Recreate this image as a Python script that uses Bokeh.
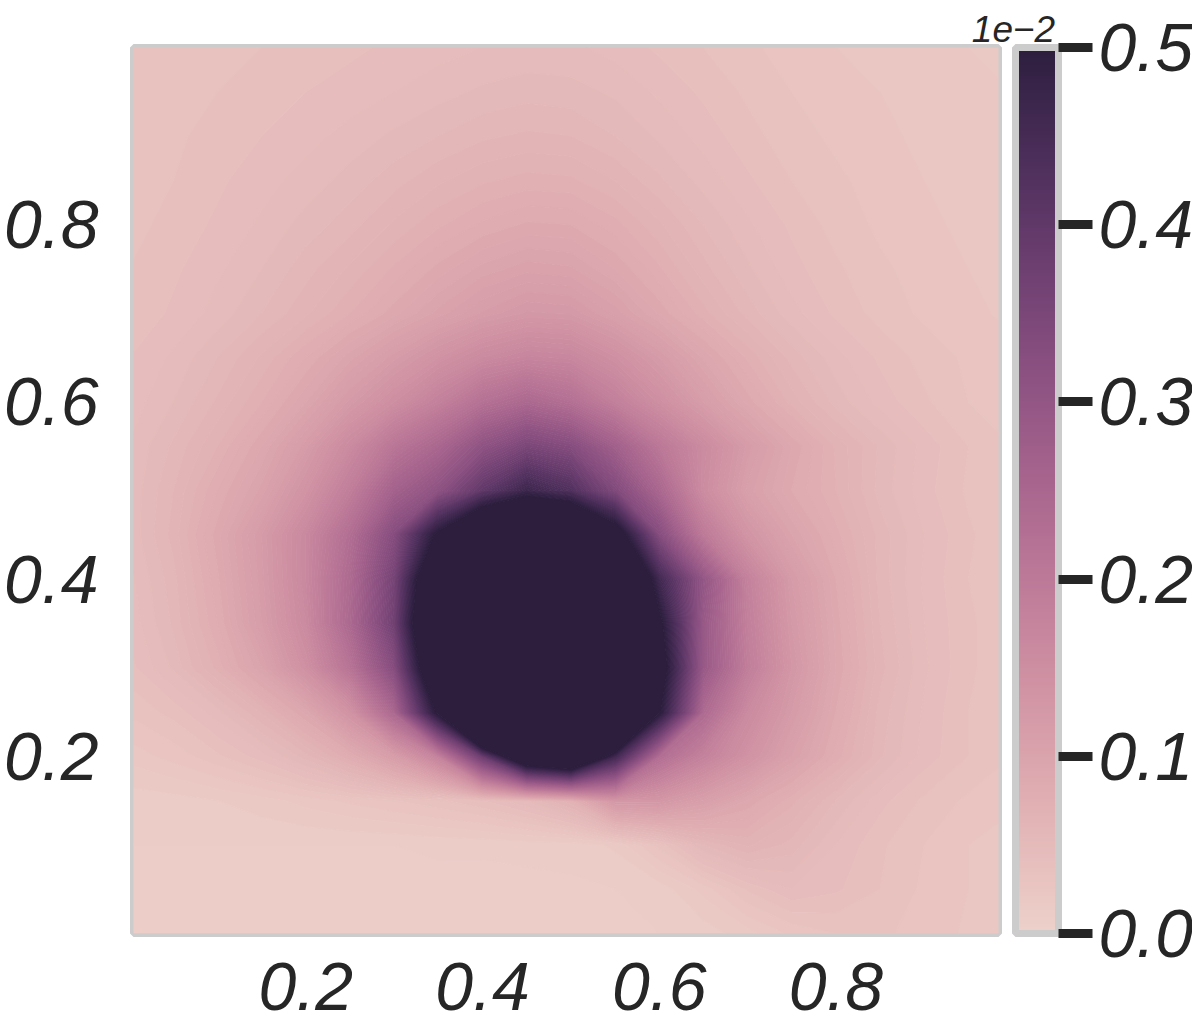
import numpy as np
from bokeh.plotting import figure
from bokeh.layouts import row
from bokeh.models import (LinearColorMapper, ColorBar, FixedTicker, Range1d,
                          Title, PrintfTickFormatter)
from bokeh.embed import file_html
from bokeh.resources import INLINE

# ---------------- data ----------------
x_ticks = [0.2, 0.4, 0.6, 0.8]
y_ticks = [0.2, 0.4, 0.6, 0.8]
cbar_ticks = [0.0, 0.1, 0.2, 0.3, 0.4, 0.5]
cbar_title = "1e\u22122"

# grid nodes of the field
x_nodes = [0.00, 0.05, 0.10, 0.15, 0.20, 0.25, 0.30, 0.35, 0.40, 0.45, 0.50,
           0.55, 0.60, 0.65, 0.70, 0.75, 0.80, 0.85, 0.90, 0.95, 1.00]
y_nodes = [0.00, 0.05, 0.10, 0.15, 0.20, 0.25, 0.30, 0.35, 0.40, 0.45, 0.50,
           0.55, 0.60, 0.65, 0.70, 0.75, 0.80, 0.85, 0.90, 0.95, 1.00]

# field values (units of 1e-2); rows listed from y=1.00 (top) down to y=0.00
# values above 0.5 are saturated (drawn in the darkest colour)
field_rows_top_down = [
    [0.030, 0.031, 0.033, 0.035, 0.037, 0.039, 0.041, 0.043, 0.045, 0.046, 0.046, 0.043, 0.039, 0.035, 0.031, 0.028, 0.025, 0.023, 0.022, 0.020, 0.019],
    [0.031, 0.032, 0.035, 0.037, 0.040, 0.042, 0.045, 0.048, 0.051, 0.053, 0.052, 0.049, 0.044, 0.039, 0.034, 0.030, 0.027, 0.025, 0.023, 0.021, 0.020],
    [0.031, 0.034, 0.037, 0.040, 0.043, 0.047, 0.051, 0.055, 0.059, 0.061, 0.060, 0.055, 0.049, 0.043, 0.037, 0.032, 0.029, 0.026, 0.024, 0.022, 0.021],
    [0.032, 0.035, 0.039, 0.043, 0.047, 0.052, 0.058, 0.064, 0.069, 0.072, 0.071, 0.065, 0.056, 0.048, 0.041, 0.035, 0.031, 0.028, 0.025, 0.023, 0.021],
    [0.033, 0.037, 0.041, 0.046, 0.052, 0.058, 0.066, 0.074, 0.081, 0.086, 0.085, 0.077, 0.066, 0.055, 0.046, 0.039, 0.033, 0.029, 0.026, 0.024, 0.022],
    [0.035, 0.039, 0.044, 0.050, 0.058, 0.066, 0.076, 0.087, 0.097, 0.103, 0.101, 0.090, 0.076, 0.062, 0.051, 0.042, 0.036, 0.031, 0.028, 0.025, 0.023],
    [0.036, 0.041, 0.047, 0.055, 0.064, 0.075, 0.088, 0.102, 0.116, 0.126, 0.124, 0.108, 0.089, 0.072, 0.058, 0.047, 0.039, 0.033, 0.029, 0.026, 0.024],
    [0.040, 0.046, 0.055, 0.066, 0.080, 0.098, 0.118, 0.140, 0.160, 0.172, 0.168, 0.146, 0.120, 0.094, 0.074, 0.058, 0.047, 0.039, 0.033, 0.029, 0.026],
    [0.042, 0.050, 0.061, 0.075, 0.095, 0.122, 0.150, 0.182, 0.222, 0.245, 0.225, 0.185, 0.148, 0.115, 0.088, 0.068, 0.053, 0.043, 0.036, 0.030, 0.027],
    [0.045, 0.056, 0.070, 0.090, 0.118, 0.160, 0.210, 0.250, 0.310, 0.350, 0.330, 0.270, 0.205, 0.158, 0.118, 0.090, 0.069, 0.054, 0.043, 0.035, 0.030],
    [0.046, 0.060, 0.080, 0.102, 0.138, 0.190, 0.265, 0.310, 0.400, 0.470, 0.430, 0.340, 0.250, 0.155, 0.108, 0.085, 0.070, 0.053, 0.042, 0.034, 0.029],
    [0.046, 0.062, 0.088, 0.120, 0.165, 0.230, 0.330, 0.520, 0.680, 0.730, 0.710, 0.560, 0.330, 0.200, 0.135, 0.100, 0.077, 0.058, 0.045, 0.036, 0.030],
    [0.043, 0.058, 0.084, 0.118, 0.165, 0.240, 0.360, 0.640, 1.000, 1.000, 1.000, 0.710, 0.460, 0.300, 0.180, 0.120, 0.085, 0.058, 0.044, 0.035, 0.030],
    [0.041, 0.056, 0.080, 0.115, 0.160, 0.245, 0.370, 0.690, 1.000, 1.000, 1.000, 1.000, 0.520, 0.290, 0.185, 0.125, 0.088, 0.060, 0.045, 0.036, 0.031],
    [0.038, 0.051, 0.072, 0.100, 0.145, 0.215, 0.330, 0.630, 1.000, 1.000, 1.000, 1.000, 0.550, 0.290, 0.190, 0.130, 0.090, 0.062, 0.046, 0.036, 0.031],
    [0.031, 0.037, 0.048, 0.066, 0.092, 0.140, 0.250, 0.520, 1.000, 1.000, 1.000, 0.900, 0.510, 0.240, 0.160, 0.120, 0.085, 0.058, 0.044, 0.035, 0.030],
    [0.022, 0.027, 0.034, 0.043, 0.058, 0.080, 0.115, 0.180, 0.380, 0.620, 0.680, 0.460, 0.230, 0.180, 0.140, 0.105, 0.078, 0.056, 0.043, 0.035, 0.030],
    [0.012, 0.013, 0.015, 0.018, 0.022, 0.026, 0.030, 0.034, 0.040, 0.050, 0.070, 0.130, 0.130, 0.110, 0.090, 0.072, 0.055, 0.042, 0.034, 0.029, 0.026],
    [0.010, 0.010, 0.010, 0.010, 0.010, 0.010, 0.010, 0.011, 0.011, 0.012, 0.012, 0.016, 0.032, 0.055, 0.066, 0.058, 0.045, 0.036, 0.030, 0.025, 0.022],
    [0.008, 0.008, 0.008, 0.008, 0.008, 0.008, 0.008, 0.008, 0.008, 0.008, 0.009, 0.010, 0.012, 0.022, 0.036, 0.045, 0.041, 0.035, 0.029, 0.025, 0.022],
    [0.006, 0.006, 0.006, 0.006, 0.006, 0.006, 0.006, 0.006, 0.006, 0.006, 0.007, 0.008, 0.010, 0.012, 0.018, 0.026, 0.030, 0.031, 0.028, 0.024, 0.021],
]

# ---------------- palette (seaborn default cubehelix, light -> dark) ----------------
def cubehelix_colors(n=256, start=0.0, rot=0.4, gamma=1.0, hue=0.8, light=0.85, dark=0.15):
    t = np.linspace(light, dark, n)
    xg = t ** gamma
    a = hue * xg * (1 - xg) / 2
    phi = 2 * np.pi * (start / 3 + rot * t)
    r = xg + a * (-0.14861 * np.cos(phi) + 1.78277 * np.sin(phi))
    g = xg + a * (-0.29227 * np.cos(phi) - 0.90649 * np.sin(phi))
    b = xg + a * (1.97294 * np.cos(phi))
    rgb = np.clip(np.stack([r, g, b], axis=1), 0, 1)
    return ["#%02x%02x%02x" % tuple(int(round(c * 255)) for c in row) for row in rgb]

palette = cubehelix_colors()
VMIN, VMAX = 0.0, 0.5

def color_at(v):
    i = int(round((min(max(v, VMIN), VMAX) - VMIN) / (VMAX - VMIN) * (len(palette) - 1)))
    return palette[i]

# fine colour levels for the filled field (styling only)
n_bands = 100
levels = [VMIN + (VMAX - VMIN) * k / n_bands for k in range(n_bands + 1)] + [2.0]
fill_colors = [color_at(0.5 * (levels[k] + levels[k + 1])) for k in range(n_bands)] + [palette[-1]]
line_colors = [color_at(l) for l in levels]

TEXT = "#262626"
EDGE = "#cccccc"
FONT = "Liberation Sans"
LABEL_SIZE = "68px"

field = np.array(field_rows_top_down[::-1])

mapper = LinearColorMapper(palette=palette, low=VMIN, high=VMAX)

# ---------------- main field ----------------
p = figure(width=1002, height=1032,
           x_range=Range1d(0.005, 0.984), y_range=Range1d(0.0, 1.0),
           output_backend="svg", toolbar_location=None,
           min_border_left=131, min_border_right=4, min_border_top=47, min_border_bottom=99)

p.contour(x=np.array(x_nodes), y=np.array(y_nodes), z=field, levels=levels,
          fill_color=fill_colors, line_color=line_colors, line_width=1.2)

p.grid.visible = False
p.outline_line_color = EDGE
p.outline_line_width = 7
p.background_fill_color = "white"
p.border_fill_color = "white"

for ax, ticks, standoff in ((p.xaxis, x_ticks, 29), (p.yaxis, y_ticks, 35)):
    ax.ticker = FixedTicker(ticks=ticks)
    ax.major_tick_line_color = None
    ax.minor_tick_line_color = None
    ax.major_tick_out = 0
    ax.major_tick_in = 0
    ax.axis_line_color = None
    ax.major_label_text_font = FONT
    ax.major_label_text_font_size = LABEL_SIZE
    ax.major_label_text_font_style = "italic"
    ax.major_label_text_color = TEXT
    ax.major_label_standoff = standoff
p.yaxis.major_label_orientation = "horizontal"

# ---------------- colour bar (own transparent panel, slightly overlapping) ----------------
cbf = figure(width=230, height=1032, x_range=Range1d(0, 1), y_range=Range1d(0, 1),
             output_backend="svg", toolbar_location=None,
             x_axis_location=None, y_axis_location=None,
             min_border_left=53, min_border_right=175, min_border_top=0, min_border_bottom=99)
cbf.margin = (0, 0, 0, -40)
cbf.grid.visible = False
cbf.outline_line_color = None
cbf.background_fill_color = None
cbf.border_fill_color = None

cb = ColorBar(color_mapper=mapper, ticker=FixedTicker(ticks=cbar_ticks),
              formatter=PrintfTickFormatter(format="%.1f"),
              location="bottom_left", height=886,
              width=43, padding=0, margin=0,
              bar_line_color=EDGE, bar_line_width=7,
              major_tick_out=34, major_tick_in=0,
              major_tick_line_color=TEXT, major_tick_line_width=9,
              minor_tick_line_color=None,
              major_label_text_font=FONT, major_label_text_font_size=LABEL_SIZE,
              major_label_text_font_style="italic", major_label_text_color=TEXT,
              label_standoff=6, border_line_color=None, background_fill_color=None)
cbf.add_layout(cb, "right")

cbf.add_layout(Title(text=cbar_title, align="center", standoff=8, vertical_align="top",
                     text_font=FONT, text_font_size="37px", text_font_style="italic",
                     text_color=TEXT), "above")

layout = row(p, cbf)

open("out.html", "w").write(file_html(layout, INLINE))
